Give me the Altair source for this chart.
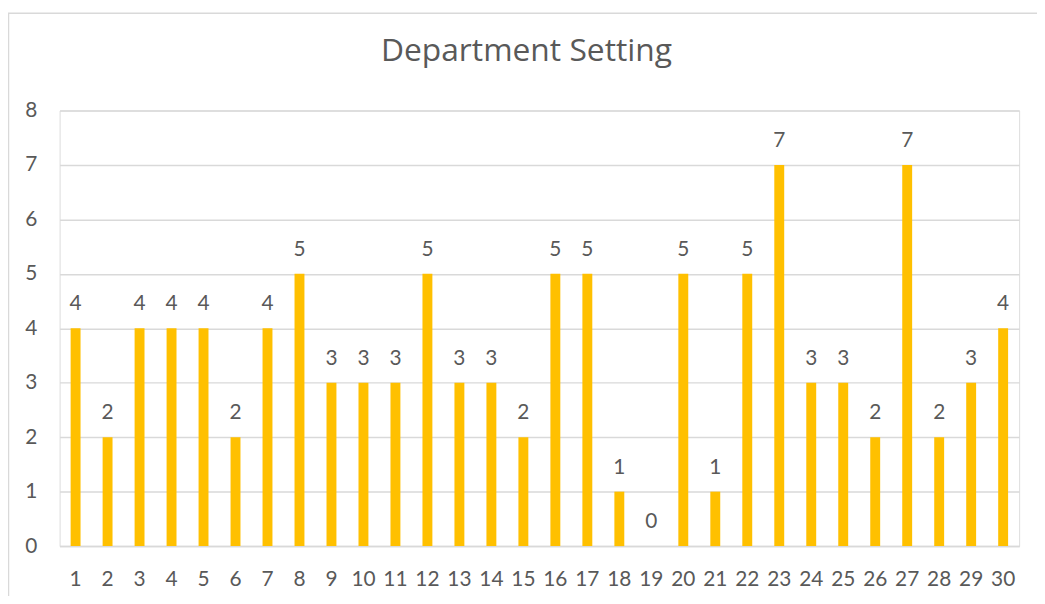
import altair as alt
import pandas as pd

categories = [str(i) for i in range(1, 31)]
values = [4, 2, 4, 4, 4, 2, 4, 5, 3, 3, 3, 5, 3, 3, 2, 5, 5, 1, 0, 5, 1, 5, 7, 3, 3, 2, 7, 2, 3, 4]
y_ticks = [0, 1, 2, 3, 4, 5, 6, 7, 8]

df = pd.DataFrame({"cat": categories, "val": values})

FONT = "Lato"
GRAY = "#595959"

x_enc = alt.X("cat:N", sort=categories, scale=alt.Scale(paddingInner=0.69, paddingOuter=0.345),
              axis=alt.Axis(title=None, labelAngle=0, ticks=False, domainColor="#d9d9d9",
                            domainWidth=1.5, labelPadding=40, labelBaseline="alphabetic",
                            labelFontSize=21, labelColor=GRAY, labelFont=FONT))
y_enc = alt.Y("val:Q", scale=alt.Scale(domain=[0, 8], nice=False),
              axis=alt.Axis(title=None, values=y_ticks, ticks=False, domain=False,
                            gridColor="#d9d9d9", gridWidth=1.5, labelPadding=23,
                            labelFontSize=21, labelColor=GRAY, labelFont=FONT))

border = alt.Chart(pd.DataFrame({"a": [0]})).mark_rect(
    fill=None, stroke="#d9d9d9", strokeWidth=1.5
).encode(x=alt.value(-51.5), x2=alt.value(1000), y=alt.value(-98), y2=alt.value(520))

bars = alt.Chart(df).mark_bar(color="#FFC000").encode(x=x_enc, y=y_enc)
labels = alt.Chart(df).mark_text(
    baseline="alphabetic", dy=-18, fontSize=21, color=GRAY, font=FONT
).encode(x=alt.X("cat:N", sort=categories), y="val:Q", text="val:Q")

chart = alt.layer(border, bars, labels).properties(
    width=967, height=439,
    autosize=alt.AutoSizeParams(type="none"),
    padding={"left": 52, "top": 101, "right": 18, "bottom": 48},
    title=alt.TitleParams("Department Setting", fontSize=32, font="Open Sans", fontWeight="normal",
                          color=GRAY, anchor="middle", offset=-81, dx=-13, baseline="alphabetic"),
).configure_view(stroke=None).configure(background="white")

chart.save("out.html", embed_options={"renderer": "svg", "actions": False})
